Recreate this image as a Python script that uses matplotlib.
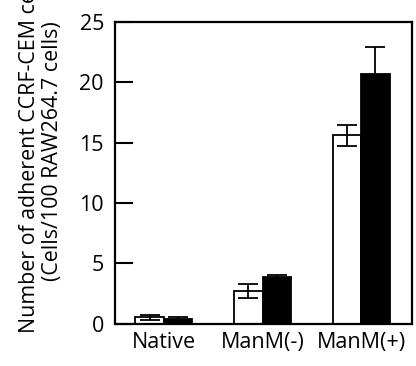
import matplotlib
matplotlib.use("Agg")
import matplotlib.pyplot as plt
import numpy as np

categories = ["Native", "ManM(-)", "ManM(+)"]
white_vals = [0.5, 2.7, 15.6]
white_err = [0.2, 0.6, 0.85]
black_vals = [0.4, 3.85, 20.7]
black_err = [0.15, 0.2, 2.2]
yticks = [0, 5, 10, 15, 20, 25]

plt.rcParams['font.family'] = ['Open Sans', 'DejaVu Sans']

fig = plt.figure(figsize=(4.16, 3.66), dpi=100)
ax = fig.add_axes([115/416, 1-323.5/366, (412-115)/416, (323.5-22)/366])

x = np.arange(len(categories))
w = 0.29
ax.bar(x - w/2, white_vals, w, color='white', edgecolor='black', linewidth=1.3,
       yerr=white_err, error_kw=dict(ecolor='black', elinewidth=1.3, capsize=7, capthick=1.3))
ax.bar(x + w/2, black_vals, w, color='black', edgecolor='black', linewidth=1.3,
       yerr=black_err, error_kw=dict(ecolor='black', elinewidth=1.3, capsize=7, capthick=1.3))

ax.set_xlim(-0.495, 2.515)
ax.set_ylim(0, 25)
ax.set_yticks(yticks)
ax.set_xticks(x)
ax.set_xticklabels(categories, fontsize=15.5)
ax.tick_params(axis='y', direction='in', length=13, width=1.5, labelsize=15.5, pad=8, right=False)
ax.tick_params(axis='x', length=0, pad=6)
for s in ax.spines.values():
    s.set_linewidth(1.6)

fig.text(41/416, 1-151/366, "Number of adherent CCRF-CEM cells\n(Cells/100 RAW264.7 cells)",
         rotation=90, ha='center', va='center', multialignment='center', fontsize=15.4,
         linespacing=1.1)

fig.savefig("out.png", dpi=100)
